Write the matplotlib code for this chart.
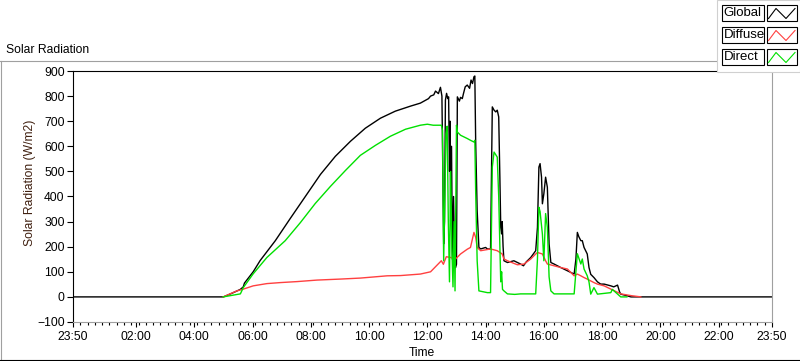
import numpy as np
import matplotlib.pyplot as plt
from matplotlib.lines import Line2D
from matplotlib.patches import Rectangle

plt.rcParams['font.family'] = ['Liberation Sans', 'DejaVu Sans']

# time in hours (23:50 of the previous day = -1/6), values in W/m2
global_t = [-1/6, 5.0, 5.30, 5.58, 5.68, 5.72, 6.02, 6.26, 6.78, 7.29, 7.81, 8.33, 8.84, 9.36, 9.87,
            10.39, 10.90, 11.42, 11.76, 12.04, 12.11, 12.22, 12.28, 12.38, 12.45, 12.50, 12.56, 12.59,
            12.62, 12.66, 12.70, 12.73, 12.76, 12.78, 12.80, 12.83, 12.86, 12.90, 12.94, 12.97, 13.00,
            13.03, 13.10, 13.14, 13.20, 13.24, 13.30, 13.37, 13.45, 13.50, 13.55, 13.60, 13.63, 13.66,
            13.71, 13.77, 13.83, 14.00, 14.06, 14.17, 14.23, 14.29, 14.35, 14.40, 14.45, 14.49, 14.52,
            14.55, 14.57, 14.60, 14.63, 14.75, 14.97, 15.20, 15.30, 15.40, 15.55, 15.72, 15.78, 15.83,
            15.87, 15.92, 15.95, 16.00, 16.06, 16.12, 16.18, 16.24, 16.35, 16.58, 16.81, 17.04, 17.10,
            17.15, 17.20, 17.27, 17.32, 17.38, 17.49, 17.55, 17.61, 17.72, 17.84, 17.95, 18.07, 18.30,
            18.40, 18.53, 18.60, 18.64, 18.81, 18.99, 23 + 5/6]
global_v = [0, 0, 15, 30, 40, 55, 100, 145, 224, 312, 400, 488, 560, 620, 672,
            712, 740, 760, 772, 790, 800, 805, 820, 810, 835, 800, 211, 300,
            784, 811, 790, 797, 500, 700, 300, 600, 150, 400, 117, 117, 130,
            797, 780, 795, 790, 810, 837, 844, 831, 864, 850, 877, 880, 611,
            344, 197, 191, 197, 191, 191, 757, 744, 737, 744, 717, 477, 277,
            251, 300, 200, 144, 137, 144, 131, 124, 140, 157, 184, 277, 517,
            531, 477, 371, 411, 477, 437, 211, 137, 131, 117, 104, 91, 150,
            257, 240, 224, 224, 197, 171, 117, 90, 77, 60, 51, 51, 44,
            40, 47, 20, 11, 6, 0, 0]

direct_t = [4.99, 5.58, 5.68, 6.02, 6.49, 7.12, 7.64, 8.15, 8.67, 9.19, 9.70, 10.22, 10.73, 11.25,
            11.76, 12.00, 12.20, 12.48, 12.52, 12.56, 12.60, 12.64, 12.68, 12.72, 12.76, 12.80, 12.84,
            12.88, 12.92, 12.95, 13.00, 13.03, 13.14, 13.37, 13.48, 13.60, 13.63, 13.66, 13.71, 13.77,
            14.06, 14.17, 14.23, 14.29, 14.40, 14.45, 14.49, 14.52, 14.55, 14.58, 14.63, 14.75, 15.00,
            15.20, 15.72, 15.78, 15.83, 15.87, 15.95, 16.00, 16.06, 16.12, 16.18, 16.24, 16.35, 17.04,
            17.10, 17.15, 17.27, 17.32, 17.38, 17.49, 17.55, 17.61, 17.72, 17.84, 18.30, 18.35, 18.64,
            18.85]
direct_v = [0, 12, 37, 92, 157, 224, 296, 372, 440, 504, 564, 604, 640, 668,
            684, 688, 684, 684, 664, 144, 400, 650, 680, 300, 60, 500, 200,
            40, 300, 24, 684, 657, 644, 631, 624, 617, 624, 412, 144, 24,
            17, 17, 517, 577, 557, 400, 200, 60, 100, 30, 24, 12, 10,
            12, 12, 150, 357, 340, 250, 144, 332, 277, 80, 24, 12, 12,
            100, 172, 131, 151, 111, 84, 60, 11, 37, 11, 17, 30, 0,
            0]

diffuse_t = [4.99, 5.46, 5.68, 6.02, 6.49, 6.95, 7.53, 8.21, 9.01, 9.70, 10.62, 11.08, 11.76, 12.11,
             12.48, 12.55, 12.65, 12.80, 12.97, 13.14, 13.37, 13.48, 13.60, 13.66, 13.71, 13.83, 14.17,
             14.40, 14.57, 14.63, 14.75, 15.09, 15.32, 15.55, 15.72, 15.78, 15.95, 16.06, 16.12, 16.35,
             16.58, 16.81, 17.04, 17.15, 17.27, 17.38, 17.49, 17.72, 17.84, 18.07, 18.30, 18.64, 19.00,
             19.33]
diffuse_v = [0, 24, 31, 44, 53, 57, 61, 67, 71, 75, 84, 85, 91, 100,
             144, 130, 160, 157, 151, 171, 190, 197, 257, 237, 197, 184, 191,
             184, 171, 151, 144, 128, 131, 151, 171, 177, 171, 144, 131, 124,
             117, 111, 84, 91, 84, 77, 71, 57, 51, 44, 31, 12, 5,
             0]

major_ticks = [-1/6] + list(range(2, 23, 2)) + [23 + 5/6]
major_labels = ['23:50'] + ['%02d:00' % h for h in range(2, 23, 2)] + ['23:50']
series_names = ['Global', 'Diffuse', 'Direct']
series_colors = ['black', '#ff4040', '#00e000']

W, H = 800, 361


def px(x, y):
    return x / W, 1 - y / H


fig = plt.figure(figsize=(W / 100, H / 100), dpi=100)
ax = fig.add_axes([73 / W, 1 - 322 / H, 699 / W, 251 / H])

ax.plot(global_t, global_v, color=series_colors[0], lw=1.0, zorder=2)
ax.plot(diffuse_t, diffuse_v, color=series_colors[1], lw=1.0, zorder=3)
ax.plot(direct_t, direct_v, color=series_colors[2], lw=1.0, zorder=4)

ax.set_xlim(-1/6, 23 + 5/6)
ax.set_ylim(-100, 900)
ax.set_yticks(range(-100, 901, 100))
ax.set_xticks(major_ticks)
ax.set_xticklabels(major_labels)
ax.set_xticks(np.arange(-1/6, 23.9, 0.25), minor=True)
ax.tick_params(axis='y', direction='out', length=4.5, width=0.8, pad=1.5, labelsize=8.7)
ax.tick_params(axis='x', which='major', direction='out', length=3.6, width=0.8, pad=3, labelsize=8.7)
ax.tick_params(axis='x', which='minor', direction='out', length=2.2, width=0.8)
for side in ['left', 'top']:
    ax.spines[side].set_color('black')
    ax.spines[side].set_linewidth(0.8)
for side in ['right', 'bottom']:
    ax.spines[side].set_color('#a0a0a0')
    ax.spines[side].set_linewidth(0.8)

fig.text(*px(6, 50), 'Solar Radiation', ha='left', va='center', fontsize=8.7)
fig.text(*px(30, 183), 'Solar Radiation (W/m2)', rotation=90, ha='center', va='center',
         fontsize=8.7, color='#402010')
fig.text(*px(421.5, 353), 'Time', ha='center', va='center', fontsize=8.7)

# outer frame
fig.add_artist(Line2D([0, 718 / W], [1 - 61 / H] * 2, color='#a0a0a0', lw=0.8))
fig.add_artist(Line2D([0.5 / W] * 2, [1 - 61 / H, 0], color='#a0a0a0', lw=0.8))
fig.add_artist(Line2D([0, 1], [0.6 / H] * 2, color='black', lw=0.8))

# legend panel
fig.add_artist(Rectangle(px(717, 72), 83 / W, 72 / H, facecolor='white', edgecolor='#d0d0d0',
                         lw=0.8, zorder=5))
for i, (name, col) in enumerate(zip(series_names, series_colors)):
    y0 = 5 + 22 * i
    fig.add_artist(Rectangle(px(721.5, y0 + 16), 42 / W, 16 / H, facecolor='white',
                             edgecolor='black', lw=0.8, zorder=6))
    fig.add_artist(Rectangle(px(766.5, y0 + 16), 30 / W, 16 / H, facecolor='white',
                             edgecolor='black', lw=0.8, zorder=6))
    xs = [768.5, 776, 786, 795]
    ys = [y0 + 13.5, y0 + 3.5, y0 + 13.5, y0 + 3.5]
    fig.add_artist(Line2D([x / W for x in xs], [1 - y / H for y in ys], color=col, lw=0.8, zorder=7))
    fig.text(*px(723.5, y0 + 8), name, ha='left', va='center', fontsize=9.5, zorder=7)

fig.savefig('out.png', dpi=100)
